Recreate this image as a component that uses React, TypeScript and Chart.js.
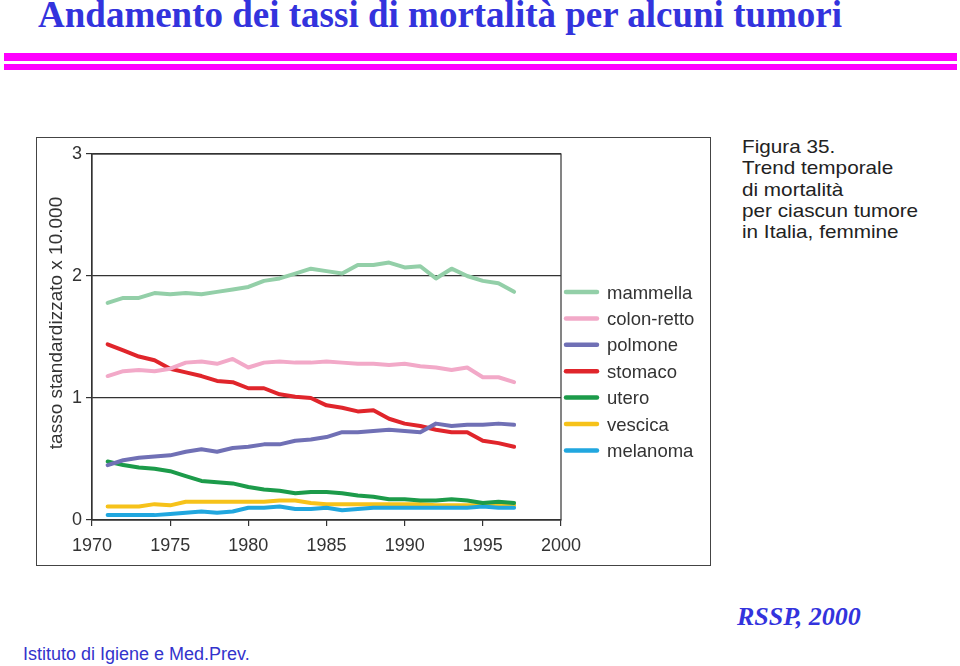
import React, { useEffect, useRef } from "react";
import { Chart, registerables } from "chart.js";

Chart.register(...registerables);

const years = [1971, 1972, 1973, 1974, 1975, 1976, 1977, 1978, 1979, 1980, 1981, 1982, 1983, 1984, 1985, 1986, 1987, 1988, 1989, 1990, 1991, 1992, 1993, 1994, 1995, 1996, 1997];

const mammella = [1.78, 1.82, 1.82, 1.86, 1.85, 1.86, 1.85, 1.87, 1.89, 1.91, 1.96, 1.98, 2.02, 2.06, 2.04, 2.02, 2.09, 2.09, 2.11, 2.07, 2.08, 1.98, 2.06, 2.0, 1.96, 1.94, 1.87];
const colonRetto = [1.18, 1.22, 1.23, 1.22, 1.24, 1.29, 1.3, 1.28, 1.32, 1.25, 1.29, 1.3, 1.29, 1.29, 1.3, 1.29, 1.28, 1.28, 1.27, 1.28, 1.26, 1.25, 1.23, 1.25, 1.17, 1.17, 1.13];
const polmone = [0.45, 0.49, 0.51, 0.52, 0.53, 0.56, 0.58, 0.56, 0.59, 0.6, 0.62, 0.62, 0.65, 0.66, 0.68, 0.72, 0.72, 0.73, 0.74, 0.73, 0.72, 0.79, 0.77, 0.78, 0.78, 0.79, 0.78];
const stomaco = [1.44, 1.39, 1.34, 1.31, 1.24, 1.21, 1.18, 1.14, 1.13, 1.08, 1.08, 1.03, 1.01, 1.0, 0.94, 0.92, 0.89, 0.9, 0.83, 0.79, 0.77, 0.74, 0.72, 0.72, 0.65, 0.63, 0.6];
const utero = [0.48, 0.45, 0.43, 0.42, 0.4, 0.36, 0.32, 0.31, 0.3, 0.27, 0.25, 0.24, 0.22, 0.23, 0.23, 0.22, 0.2, 0.19, 0.17, 0.17, 0.16, 0.16, 0.17, 0.16, 0.14, 0.15, 0.14];
const vescica = [0.11, 0.11, 0.11, 0.13, 0.12, 0.15, 0.15, 0.15, 0.15, 0.15, 0.15, 0.16, 0.16, 0.14, 0.13, 0.13, 0.13, 0.13, 0.13, 0.13, 0.13, 0.12, 0.12, 0.12, 0.12, 0.12, 0.12];
const melanoma = [0.04, 0.04, 0.04, 0.04, 0.05, 0.06, 0.07, 0.06, 0.07, 0.1, 0.1, 0.11, 0.09, 0.09, 0.1, 0.08, 0.09, 0.1, 0.1, 0.1, 0.1, 0.1, 0.1, 0.1, 0.11, 0.1, 0.1];

const seriesNames = ["mammella", "colon-retto", "polmone", "stomaco", "utero", "vescica", "melanoma"];
const seriesValues = [mammella, colonRetto, polmone, stomaco, utero, vescica, melanoma];
const seriesColors = ["#93cfa8", "#f2a9c8", "#7070b5", "#e0252b", "#1c9b4a", "#f6c21a", "#21a7df"];
const seriesOrder = [0, 0, 0, 0, 0, 10, 0];

const xTicks = [1970, 1975, 1980, 1985, 1990, 1995, 2000];
const yTicks = [0, 1, 2, 3];
const yTitle = "tasso standardizzato x 10.000";
const captionLines = ["Figura 35.", "Trend temporale", "di mortalità", "per ciascun tumore", "in Italia, femmine"];

const SANS = "'Liberation Sans', Arial, sans-serif";
const SERIF = "'Liberation Serif', 'Times New Roman', serif";

const framePlugin = {
  id: "frameAndLegend",
  beforeDatasetsDraw(chart: any) {
    const { ctx, chartArea } = chart;
    ctx.save();
    ctx.strokeStyle = "#333";
    ctx.lineWidth = 1.2;
    ctx.strokeRect(chartArea.left, chartArea.top, chartArea.right - chartArea.left, chartArea.bottom - chartArea.top);
    ctx.restore();
  },
  afterDraw(chart: any) {
    const { ctx, chartArea } = chart;
    ctx.save();
    ctx.translate(19.7, 185);
    ctx.rotate(-Math.PI / 2);
    ctx.font = `19px ${SANS}`;
    ctx.fillStyle = "#333";
    ctx.textAlign = "center";
    ctx.textBaseline = "middle";
    ctx.fillText(yTitle, 0, 0);
    ctx.restore();

    ctx.save();
    const x0 = chartArea.right + 5;
    const x1 = chartArea.right + 36;
    const tx = chartArea.right + 46;
    const y0 = 154;
    const step = 26.4;
    chart.data.datasets.forEach((ds: any, i: number) => {
      const y = y0 + i * step;
      ctx.strokeStyle = ds.borderColor;
      ctx.lineWidth = 4.5;
      ctx.lineCap = "round";
      ctx.beginPath();
      ctx.moveTo(x0, y);
      ctx.lineTo(x1, y);
      ctx.stroke();
      ctx.font = `18.5px ${SANS}`;
      ctx.fillStyle = "#333";
      ctx.textAlign = "left";
      ctx.textBaseline = "alphabetic";
      ctx.fillText(ds.label, tx, y + 6.5);
    });
    ctx.restore();
  },
};

function MortalityChart() {
  const ref = useRef<HTMLCanvasElement | null>(null);
  useEffect(() => {
    if (!ref.current) return;
    const chart = new Chart(ref.current, {
      type: "line",
      data: {
        datasets: seriesNames.map((name, i) => ({
          label: name,
          data: years.map((yr, j) => ({ x: yr, y: seriesValues[i][j] })),
          borderColor: seriesColors[i],
          backgroundColor: seriesColors[i],
          borderWidth: 4,
          borderCapStyle: "round",
          borderJoinStyle: "round",
          pointRadius: 0,
          tension: 0,
          order: seriesOrder[i],
        })),
      },
      options: {
        responsive: false,
        animation: false,
        layout: { padding: { top: 16, right: 148, left: 0, bottom: 0 } },
        plugins: { legend: { display: false }, tooltip: { enabled: false }, title: { display: false } },
        scales: {
          x: {
            type: "linear",
            min: xTicks[0],
            max: xTicks[xTicks.length - 1],
            afterBuildTicks: (s: any) => { s.ticks = xTicks.map((v) => ({ value: v })); },
            afterFit: (s: any) => { s.height = 45; },
            ticks: { color: "#333", font: { family: SANS, size: 18 }, padding: 9, maxRotation: 0, autoSkip: false, callback: (v: any) => String(v) },
            grid: { drawOnChartArea: false, drawTicks: true, tickLength: 6, color: "#333", lineWidth: 1.2 },
            border: { display: true, color: "#333", width: 1.2 },
          },
          y: {
            type: "linear",
            min: yTicks[0],
            max: yTicks[yTicks.length - 1],
            afterBuildTicks: (s: any) => { s.ticks = yTicks.map((v) => ({ value: v })); },
            afterFit: (s: any) => { s.width = 55; },
            ticks: { color: "#333", font: { family: SANS, size: 18 }, padding: 4, callback: (v: any) => String(v) },
            grid: { drawOnChartArea: true, drawTicks: true, tickLength: 6, color: "#333", lineWidth: 1.2 },
            border: { display: true, color: "#333", width: 1.2 },
          },
        },
      },
      plugins: [framePlugin],
    } as any);
    return () => chart.destroy();
  }, []);
  return <canvas ref={ref} width={672} height={427} style={{ position: "absolute", left: 37, top: 138, width: 672, height: 427 }} />;
}

export default function App() {
  return (
    <div style={{ position: "fixed", left: 0, top: 0, width: 960, height: 666, background: "#fff", overflow: "hidden" }}>
      <div style={{ position: "absolute", left: 38, top: -4, font: `bold 37px ${SERIF}`, lineHeight: "37px", color: "#3333dd", whiteSpace: "nowrap" }}>
        Andamento dei tassi di mortalità per alcuni tumori
      </div>
      <div style={{ position: "absolute", left: 4, top: 53, width: 953, height: 8, background: "#ff00ff" }} />
      <div style={{ position: "absolute", left: 4, top: 64, width: 953, height: 6, background: "#ff00ff" }} />
      <div style={{ position: "absolute", left: 36, top: 137, width: 675, height: 429, border: "1.5px solid #444", boxSizing: "border-box" }} />
      <MortalityChart />
      <div style={{ position: "absolute", left: 742, top: 136, font: `19px ${SANS}`, lineHeight: "21.3px", color: "#222", transform: "scaleX(1.09)", transformOrigin: "left top", whiteSpace: "nowrap" }}>
        {captionLines.map((l, i) => (<div key={i}>{l}</div>))}
      </div>
      <div style={{ position: "absolute", left: 737, top: 604, font: `italic bold 26px ${SERIF}`, lineHeight: "26px", color: "#3333dd", whiteSpace: "nowrap" }}>
        RSSP, 2000
      </div>
      <div style={{ position: "absolute", left: 23, top: 645, font: `18px ${SANS}`, lineHeight: "18px", color: "#3333cc", whiteSpace: "nowrap" }}>
        Istituto di Igiene e Med.Prev.
      </div>
    </div>
  );
}
